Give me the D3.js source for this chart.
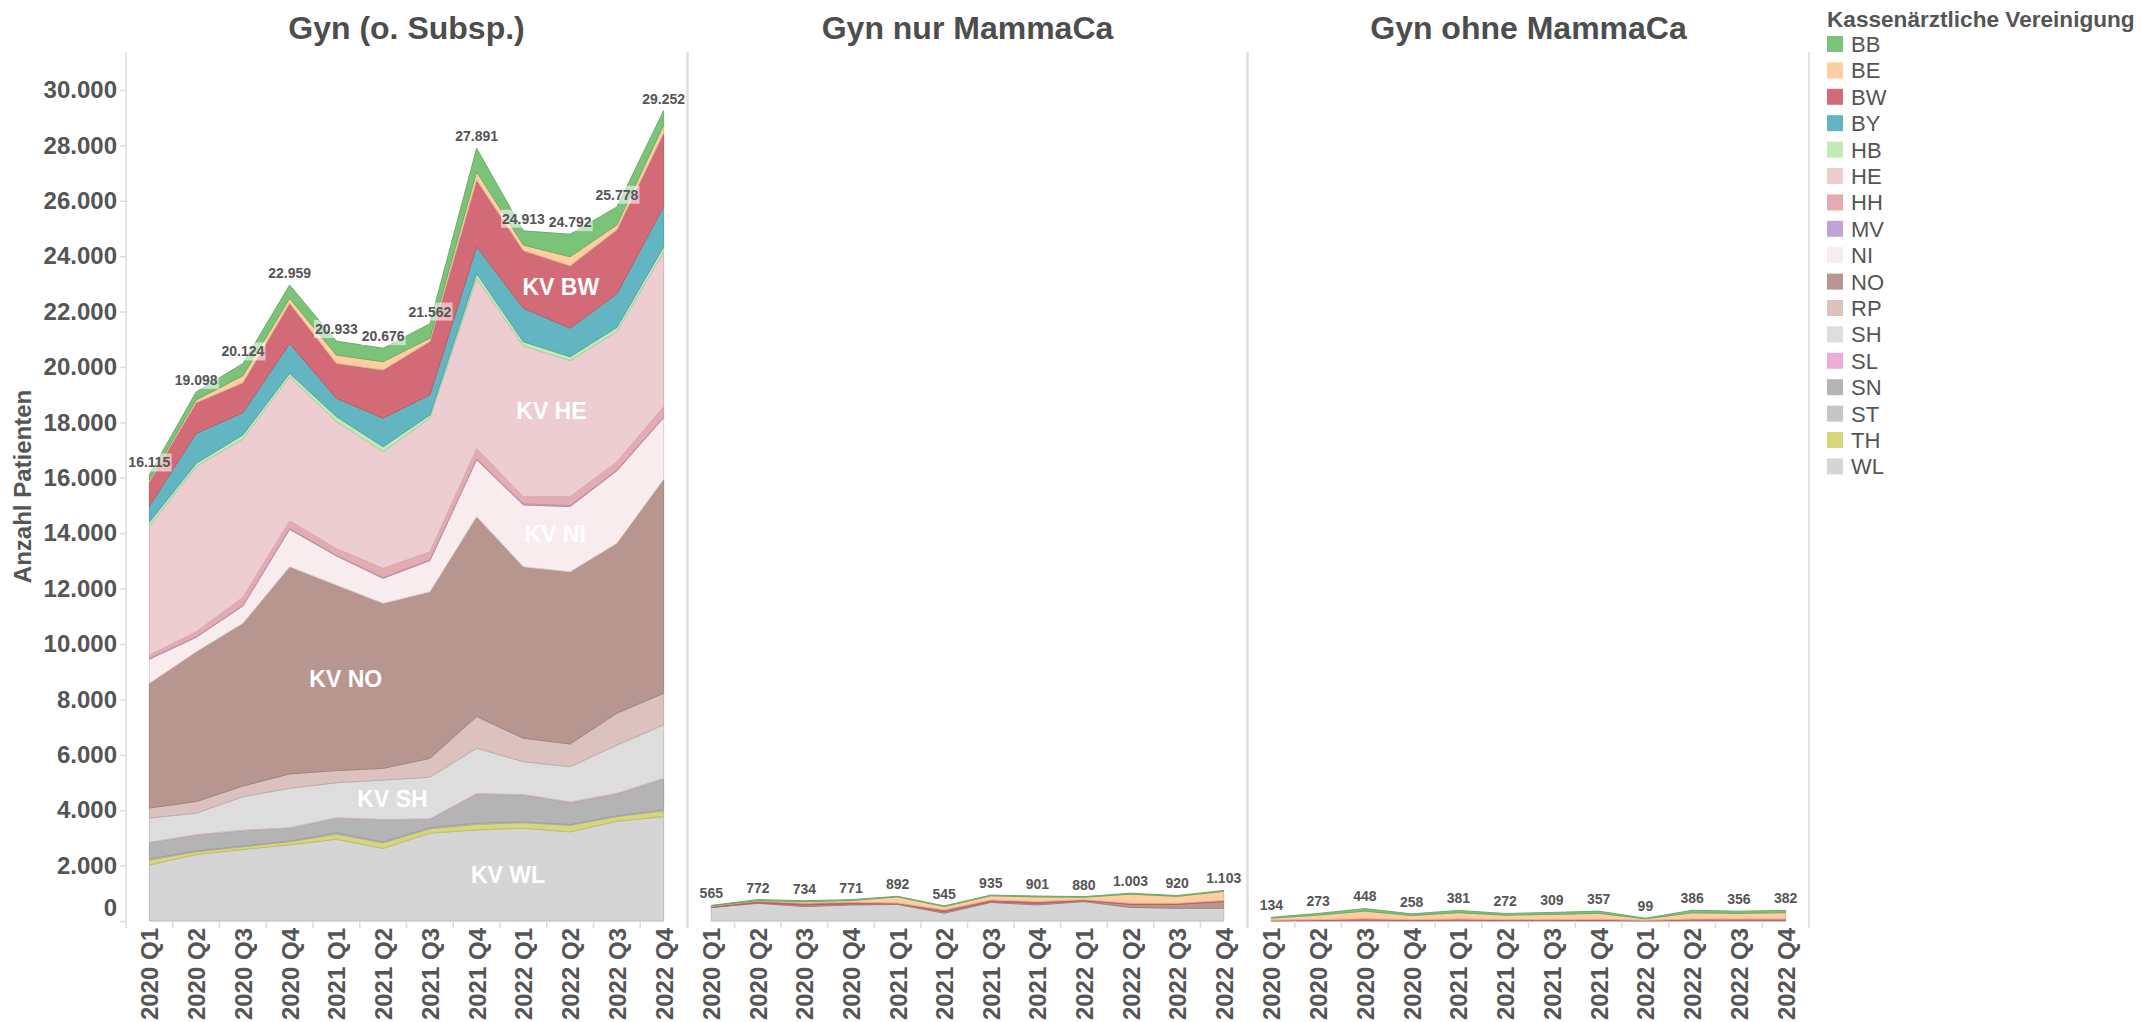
<!DOCTYPE html>
<html>
<head>
<meta charset="utf-8">
<script src="https://cdn.jsdelivr.net/npm/d3@7"></script>
<style>
  body { margin: 0; background: #fff; }
  svg { display: block; font-family: "Liberation Sans", Arial, sans-serif; }
</style>
</head>
<body>
<div class="panel"></div>
<script>
const quarters = ["2020 Q1", "2020 Q2", "2020 Q3", "2020 Q4", "2021 Q1", "2021 Q2",
                  "2021 Q3", "2021 Q4", "2022 Q1", "2022 Q2", "2022 Q3", "2022 Q4"];

const kvCodes = ["BB", "BE", "BW", "BY", "HB", "HE", "HH", "MV", "NI",
                 "NO", "RP", "SH", "SL", "SN", "ST", "TH", "WL"];

const kvColours = ["#7cc37a", "#fecda0", "#d26b77", "#63b6c1", "#c0eab6", "#eecdd2",
                   "#e4abb2", "#bfa3d6", "#f8ecee", "#b7968f", "#dcc2be", "#dddddd",
                   "#eeacd8", "#b4b4b4", "#c6c6c6", "#d6d77a", "#d5d5d5"];

const zeros = [0, 0, 0, 0, 0, 0, 0, 0, 0, 0, 0, 0];

// one row per KV, same order as kvCodes
const gynAll = [
  [195, 288, 440, 479, 503, 486, 522, 841, 513, 812, 648, 512],           // BB
  [60, 100, 254, 180, 300, 300, 120, 300, 200, 330, 180, 300],            // BE
  [880, 1110, 1080, 1450, 1260, 1740, 1930, 2410, 2080, 2250, 2310, 2650], // BW
  [580, 1080, 800, 1080, 660, 1030, 720, 960, 1210, 1030, 1210, 1450],    // BY
  [150, 120, 150, 120, 180, 180, 120, 180, 150, 140, 150, 180],           // HB
  [4650, 5960, 5710, 5200, 4580, 4210, 4820, 6140, 5440, 4910, 4700, 5590], // HE
  [130, 180, 300, 280, 250, 330, 290, 380, 260, 320, 300, 370],           // HH
  [20, 20, 20, 30, 20, 30, 30, 30, 40, 40, 30, 30],                       // MV
  [870, 520, 620, 1350, 1050, 900, 1120, 2050, 2230, 2350, 2610, 2220],   // NI
  [4500, 5410, 5880, 7480, 6700, 5960, 6020, 7220, 6190, 6220, 6140, 7730], // NO
  [360, 420, 380, 520, 440, 420, 680, 1140, 850, 820, 1150, 1140],        // RP
  [880, 770, 1210, 1420, 1260, 1420, 1500, 1640, 1180, 1270, 1740, 1930], // SH
  [20, 20, 20, 20, 20, 20, 20, 30, 20, 30, 30, 30],                       // SL
  [580, 570, 550, 460, 530, 800, 300, 1040, 970, 790, 780, 1100],         // SN
  [40, 30, 30, 30, 50, 30, 40, 40, 30, 30, 30, 50],                       // ST
  [180, 100, 100, 110, 180, 200, 160, 200, 200, 230, 170, 200],           // TH
  [2020, 2400, 2580, 2750, 2950, 2620, 3170, 3290, 3350, 3220, 3600, 3770] // WL
];

const gynMamma = [
  [25, 32, 34, 31, 22, 25, 25, 31, 20, 33, 30, 33],        // BB
  [10, 20, 60, 60, 220, 120, 150, 170, 90, 330, 250, 330], // BE
  [40, 60, 60, 60, 30, 60, 60, 60, 40, 40, 40, 40],        // BW
  zeros, zeros, zeros, zeros, zeros, zeros,
  [0, 20, 60, 40, 20, 60, 30, 60, 30, 110, 140, 240],      // NO
  zeros, zeros, zeros, zeros, zeros, zeros,
  [490, 640, 520, 580, 600, 280, 670, 580, 700, 490, 460, 460] // WL
];

const gynOhne = [
  [30, 60, 90, 60, 80, 60, 70, 80, 20, 90, 80, 80],             // BB
  [74, 163, 278, 148, 231, 162, 189, 217, 54, 226, 206, 232],   // BE
  [20, 30, 50, 30, 40, 30, 30, 40, 15, 40, 40, 40],             // BW
  zeros, zeros, zeros, zeros, zeros, zeros,
  [10, 20, 30, 20, 30, 20, 20, 20, 10, 30, 30, 30],             // NO
  zeros, zeros, zeros, zeros, zeros, zeros, zeros
];

const panelTitles = ["Gyn (o. Subsp.)", "Gyn nur MammaCa", "Gyn ohne MammaCa"];
const yTicks = [0, 2000, 4000, 6000, 8000, 10000, 12000, 14000, 16000,
                18000, 20000, 22000, 24000, 26000, 28000, 30000];
// KV label inside the first panel: quarter index (fractional) and a nudge in patients
const areaLabels = [["BW", 8.8, 250], ["HE", 8.6, 540], ["NI", 8.68, 150],
                    ["NO", 4.2, 0], ["SH", 5.2, 0], ["WL", 7.67, 0]];

const width = 2141;
const height = 1022;
const paneTop = 52;
const paneBottom = 921;
const panes = [[126, 687], [688, 1247], [1248, 1809]];
const textColour = "#555";
const lineColour = "#dcdcdc";

const de = d3.formatLocale({decimal: ",", thousands: ".", grouping: [3], currency: ["", " €"]});
const fmt = de.format(",d");

const svg = d3.select(".panel")
    .append("svg")
    .attr("width", width)
    .attr("height", height)
    .attr("viewBox", `0 0 ${width} ${height}`);

const y = d3.scaleLinear()
            .domain([0, 31370])
            .range([paneBottom, paneTop]);

drawPanel(gynAll, panelTitles[0], panes[0], true);
drawPanel(gynMamma, panelTitles[1], panes[1], false);
drawPanel(gynOhne, panelTitles[2], panes[2], false);
drawYAxis();
drawLegend();

function drawPanel(rows, title, pane, withLabels){
  const [x0, x1] = pane;
  const band = d3.scaleBand().domain(quarters).range([x0, x1]);
  const x = q => band(q) + band.bandwidth() / 2;

  const table = quarters.map((q, i) => {
    const row = {q: q};
    kvCodes.forEach((k, j) => row[k] = rows[j][i]);
    return row;
  });
  const keys = kvCodes.slice().reverse();
  const series = d3.stack().keys(keys)(table);

  const area = d3.area()
                 .x(d => x(d.data.q))
                 .y0(d => y(d[0]))
                 .y1(d => y(d[1]));

  const g = svg.append("g");

  g.selectAll("path.layer")
   .data(series.filter(s => d3.sum(s, d => d[1] - d[0]) > 0))
   .enter()
   .append("path")
   .attr("class", "layer")
   .attr("d", area)
   .attr("fill", s => colourOf(s.key))
   .attr("stroke", s => d3.color(colourOf(s.key)).darker(0.35))
   .attr("stroke-width", 1)
   .attr("stroke-linejoin", "round");

  // pane edges
  g.selectAll("line.edge")
   .data([x0, x1])
   .enter()
   .append("line")
   .attr("x1", d => d).attr("x2", d => d)
   .attr("y1", paneTop).attr("y2", paneBottom + 7)
   .attr("stroke", lineColour)
   .attr("stroke-width", 1.5);

  // ticks between quarters
  g.selectAll("line.tick")
   .data(quarters.slice(1))
   .enter()
   .append("line")
   .attr("x1", d => band(d)).attr("x2", d => band(d))
   .attr("y1", paneBottom).attr("y2", paneBottom + 7)
   .attr("stroke", lineColour)
   .attr("stroke-width", 1.5);

  g.selectAll("text.quarter")
   .data(quarters)
   .enter()
   .append("text")
   .attr("class", "quarter")
   .attr("transform", d => `translate(${x(d) + 9}, ${paneBottom + 7}) rotate(-90)`)
   .attr("text-anchor", "end")
   .attr("font-size", 24)
   .attr("font-weight", "bold")
   .attr("fill", textColour)
   .text(d => d);

  g.append("text")
   .attr("x", (x0 + x1) / 2)
   .attr("y", 39)
   .attr("text-anchor", "middle")
   .attr("font-size", 32)
   .attr("font-weight", "bold")
   .attr("fill", "#4d4d4d")
   .text(title);

  // totals above each quarter
  const totals = table.map(d => ({q: d.q, value: d3.sum(kvCodes, k => d[k])}));
  const labels = g.selectAll("g.total")
                  .data(totals)
                  .enter()
                  .append("g")
                  .attr("class", "total")
                  .attr("transform", d => `translate(${x(d.q)}, ${y(d.value) - 12})`);

  const texts = labels.append("text")
        .attr("text-anchor", "middle")
        .attr("dy", "0.35em")
        .attr("font-size", 14)
        .attr("font-weight", "bold")
        .attr("fill", "#555")
        .text(d => fmt(d.value));

  texts.each(function(){
    const box = this.getBBox();
    d3.select(this.parentNode)
      .insert("rect", "text")
      .attr("x", box.x - 1)
      .attr("y", box.y - 1)
      .attr("width", box.width + 2)
      .attr("height", box.height + 2)
      .attr("fill", "#fff")
      .attr("fill-opacity", 0.55);
  });

  if(withLabels){
    g.selectAll("text.kv")
     .data(areaLabels)
     .enter()
     .append("text")
     .attr("class", "kv")
     .attr("x", d => x0 + band.step() * (d[1] + 0.5))
     .attr("y", d => y(layerMid(series, d[0], d[1]) + d[2]))
     .attr("dy", "0.35em")
     .attr("text-anchor", "middle")
     .attr("font-size", 23)
     .attr("font-weight", "bold")
     .attr("fill", "#fff")
     .text(d => "KV " + d[0]);
  }
}

function layerMid(series, key, idx){
  const s = series.find(d => d.key === key);
  const i = Math.floor(idx);
  const t = idx - i;
  const a = (s[i][0] + s[i][1]) / 2;
  const b = (s[i + 1][0] + s[i + 1][1]) / 2;
  return a + (b - a) * t;
}

function drawYAxis(){
  const axis = d3.axisLeft(y)
                 .tickValues(yTicks)
                 .tickSize(6)
                 .tickPadding(3)
                 .tickFormat(fmt);

  const g = svg.append("g")
               .attr("transform", `translate(${panes[0][0]}, 0)`)
               .call(axis);

  g.select(".domain").remove();
  g.selectAll(".tick line").attr("stroke", lineColour).attr("stroke-width", 1.5);
  g.selectAll(".tick text")
   .attr("font-family", "Liberation Sans, Arial, sans-serif")
   .attr("font-size", 24)
   .attr("font-weight", "bold")
   .attr("fill", textColour)
   .attr("dy", d => d === 0 ? "-0.25em" : "0.32em");

  svg.append("text")
     .attr("transform", `translate(31, ${(paneTop + paneBottom) / 2}) rotate(-90)`)
     .attr("text-anchor", "middle")
     .attr("font-size", 24)
     .attr("font-weight", "bold")
     .attr("fill", textColour)
     .text("Anzahl Patienten");
}

function drawLegend(){
  const lx = 1827;
  const legend = svg.append("g");

  legend.append("text")
        .attr("x", lx)
        .attr("y", 27)
        .attr("font-size", 22.6)
        .attr("font-weight", "bold")
        .attr("fill", "#555")
        .text("Kassenärztliche Vereinigung");

  const items = legend.selectAll("g.item")
                      .data(kvCodes)
                      .enter()
                      .append("g")
                      .attr("class", "item")
                      .attr("transform", (d, i) => `translate(${lx}, ${36 + i * 26.4})`);

  items.append("rect")
       .attr("width", 16)
       .attr("height", 16)
       .attr("fill", d => colourOf(d));

  items.append("text")
       .attr("x", 24)
       .attr("y", 16)
       .attr("font-size", 22)
       .attr("fill", "#555")
       .text(d => d);
}

function colourOf(kv){
  return kvColours[kvCodes.indexOf(kv)];
}
</script>
</body>
</html>
